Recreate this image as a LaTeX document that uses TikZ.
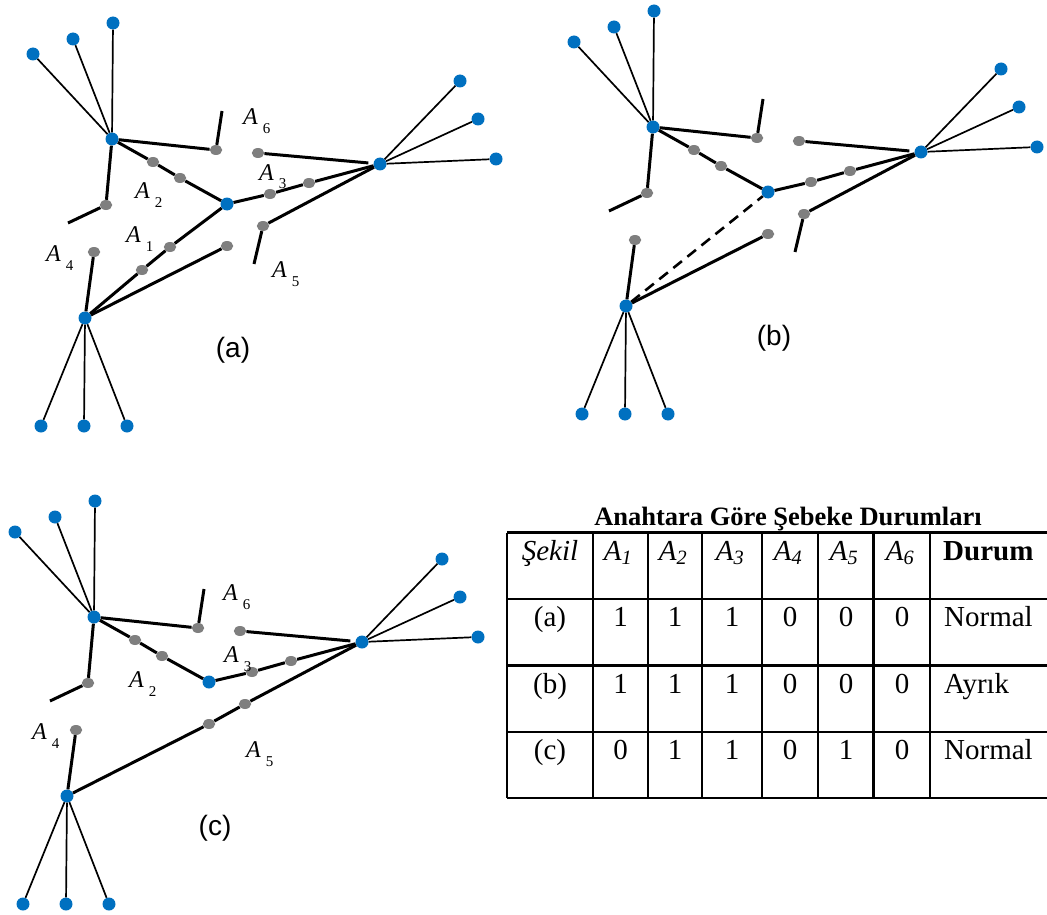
\documentclass[tikz,border=0pt]{standalone}
\usepackage{fontspec}
\setmainfont{Liberation Serif}
\newfontfamily\labelsans{Liberation Sans}
\usepackage{tikz}
\usetikzlibrary{shapes.geometric}
\definecolor{hubblue}{HTML}{0070C0}
\definecolor{swgray}{HTML}{7F7F7F}
\newcommand{\Asw}[1]{A\hspace{5pt}\raisebox{-9pt}{\upshape\fontsize{15}{15}\selectfont #1}}

\tikzset{
  hub/.style={circle, fill=hubblue, inner sep=0pt, minimum size=13pt},
  sw/.style={ellipse, fill=swgray, inner sep=0pt, minimum width=12.5pt, minimum height=10pt},
  feed/.style={line width=3pt},
  drop/.style={line width=1.7pt},
  swlabel/.style={anchor=base west, inner sep=0pt, font=\fontsize{24}{24}\selectfont\itshape},
  figlabel/.style={anchor=base, inner sep=0pt, font=\labelsans\fontsize{28}{28}\selectfont},
  tabline/.style={line width=2.2pt},
  cell/.style={anchor=base, inner sep=0pt, font=\fontsize{29}{29}\selectfont},
}

\begin{document}
\begin{tikzpicture}[x=1pt, y=-1pt]
  \useasboundingbox (0,0) rectangle (1047,915);

  % the same network in each panel
  \foreach \dx/\dy/\pn in {0/0/a, 541/-12/b, -18/478/c} {
    \begin{scope}[shift={(\dx,\dy)}]
      \node[hub] (h1\pn) at (112,139) {};
      \node[hub] (h2\pn) at (227,204) {};
      \node[hub] (h3\pn) at (380,164) {};
      \node[hub] (h4\pn) at (85,318) {};
      \foreach \lx/\ly [count=\i] in {33/54, 73/39, 113/23} {
        \node[hub] (la\i\pn) at (\lx,\ly) {};
        \draw[drop] (h1\pn) -- (la\i\pn);
      }
      \foreach \lx/\ly [count=\i] in {460/81, 478/119, 496/159} {
        \node[hub] (lb\i\pn) at (\lx,\ly) {};
        \draw[drop] (h3\pn) -- (lb\i\pn);
      }
      \foreach \lx/\ly [count=\i] in {41/426, 84/426, 127/426} {
        \node[hub] (lc\i\pn) at (\lx,\ly) {};
        \draw[drop] (h4\pn) -- (lc\i\pn);
      }
      % switches
      \node[sw] (g2u\pn) at (153,162) {};
      \node[sw] (g2v\pn) at (180,178) {};
      \node[sw] (g3u\pn) at (270,194) {};
      \node[sw] (g3v\pn) at (309,183) {};
      \node[sw] (g4u\pn) at (106,205) {};
      \node[sw] (g4v\pn) at (94,252) {};
      \node[sw] (g5u\pn) at (227,246) {};
      \node[sw] (g5v\pn) at (263,226) {};
      \node[sw] (g6u\pn) at (216,150) {};
      \node[sw] (g6v\pn) at (258,153) {};
      \coordinate (s4\pn) at (68,223);
      \coordinate (s5\pn) at (254,264);
      \coordinate (s6\pn) at (222,111);
      \draw[feed] (h1\pn) -- (g2u\pn) -- (g2v\pn) -- (h2\pn);
      \draw[feed] (h2\pn) -- (g3u\pn) -- (g3v\pn) -- (h3\pn);
      \draw[feed] (h1\pn) -- (g4u\pn) -- (s4\pn);
      \draw[feed] (h4\pn) -- (g4v\pn);
      \draw[feed] (h4\pn) -- (g5u\pn);
      \draw[feed] (h3\pn) -- (g5v\pn);
      \draw[feed] (h1\pn) -- (g6u\pn) -- (s6\pn);
      \draw[feed, shorten >=5pt] (g6v\pn) -- (h3\pn);
      \node[figlabel] (cap\pn) at (233,357) {(\pn)};
    \end{scope}
  }

  % (a) A1 closed, A5 open
  \node[sw] (g1ua) at (142,270) {};
  \node[sw] (g1va) at (170,247) {};
  \draw[feed] (h4a) -- (g1ua) -- (g1va) -- (h2a);
  \draw[feed] (g5va) -- (s5a);
  % (b) A1 lost
  \draw[line width=2.6pt, dash pattern=on 11pt off 7pt] (h4b) -- (h2b);
  \draw[feed] (g5vb) -- (s5b);
  % (c) A5 closed
  \draw[feed] (g5uc) -- (g5vc);

  \node[swlabel] (A6a) at (243,125) {\Asw{6}};
  \node[swlabel] (A3a) at (259,180) {\Asw{3}};
  \node[swlabel] (A2a) at (135,198) {\Asw{2}};
  \node[swlabel] (A1a) at (126,242) {\Asw{1}};
  \node[swlabel] (A4a) at (46,261) {\Asw{4}};
  \node[swlabel] (A5a) at (272,277) {\Asw{5}};

  \node[swlabel] (A6c) at (223,600) {\Asw{6}};
  \node[swlabel] (A3c) at (224,662) {\Asw{3}};
  \node[swlabel] (A2c) at (129,687) {\Asw{2}};
  \node[swlabel] (A4c) at (32,739) {\Asw{4}};
  \node[swlabel] (A5c) at (246,757) {\Asw{5}};

  % table
  \node[anchor=base, inner sep=0pt, font=\bfseries\fontsize{26.5}{26.5}\selectfont] (ttl) at (788,525) {Anahtara Göre Şebeke Durumları};
  \foreach \y in {532.5,599,665.5,732,798}
    \draw[tabline] (507,\y) -- (1047,\y);
  \foreach \x in {507,593,648,702,762,818,873.5,930}
    \draw[tabline] (\x,532.5) -- (\x,798);

  \node[cell] (hd0) at (550,560) {\itshape Şekil};
  \foreach \x [count=\i] in {618,673,730,788,844,900}
    \node[cell] (hd\i) at (\x,560) {\itshape A\textsubscript{\i}};
  \node[cell, anchor=base west, font=\bfseries\fontsize{29}{29}\selectfont] (hd7) at (943,560) {Durum};

  \foreach \y/\lab/\va/\vb/\vc/\vd/\ve/\vf/\st [count=\r] in
    {626/(a)/1/1/1/0/0/0/Normal, 693/(b)/1/1/1/0/0/0/Ayrık, 759/(c)/0/1/1/0/1/0/Normal} {
    \node[cell] (r\r-0) at (550,\y) {\lab};
    \node[cell] (r\r-1) at (620.5,\y) {\va};
    \node[cell] (r\r-2) at (675,\y) {\vb};
    \node[cell] (r\r-3) at (732,\y) {\vc};
    \node[cell] (r\r-4) at (790,\y) {\vd};
    \node[cell] (r\r-5) at (846,\y) {\ve};
    \node[cell] (r\r-6) at (902,\y) {\vf};
    \node[cell, anchor=base west] (r\r-7) at (944,\y) {\st};
  }
\end{tikzpicture}
\end{document}
